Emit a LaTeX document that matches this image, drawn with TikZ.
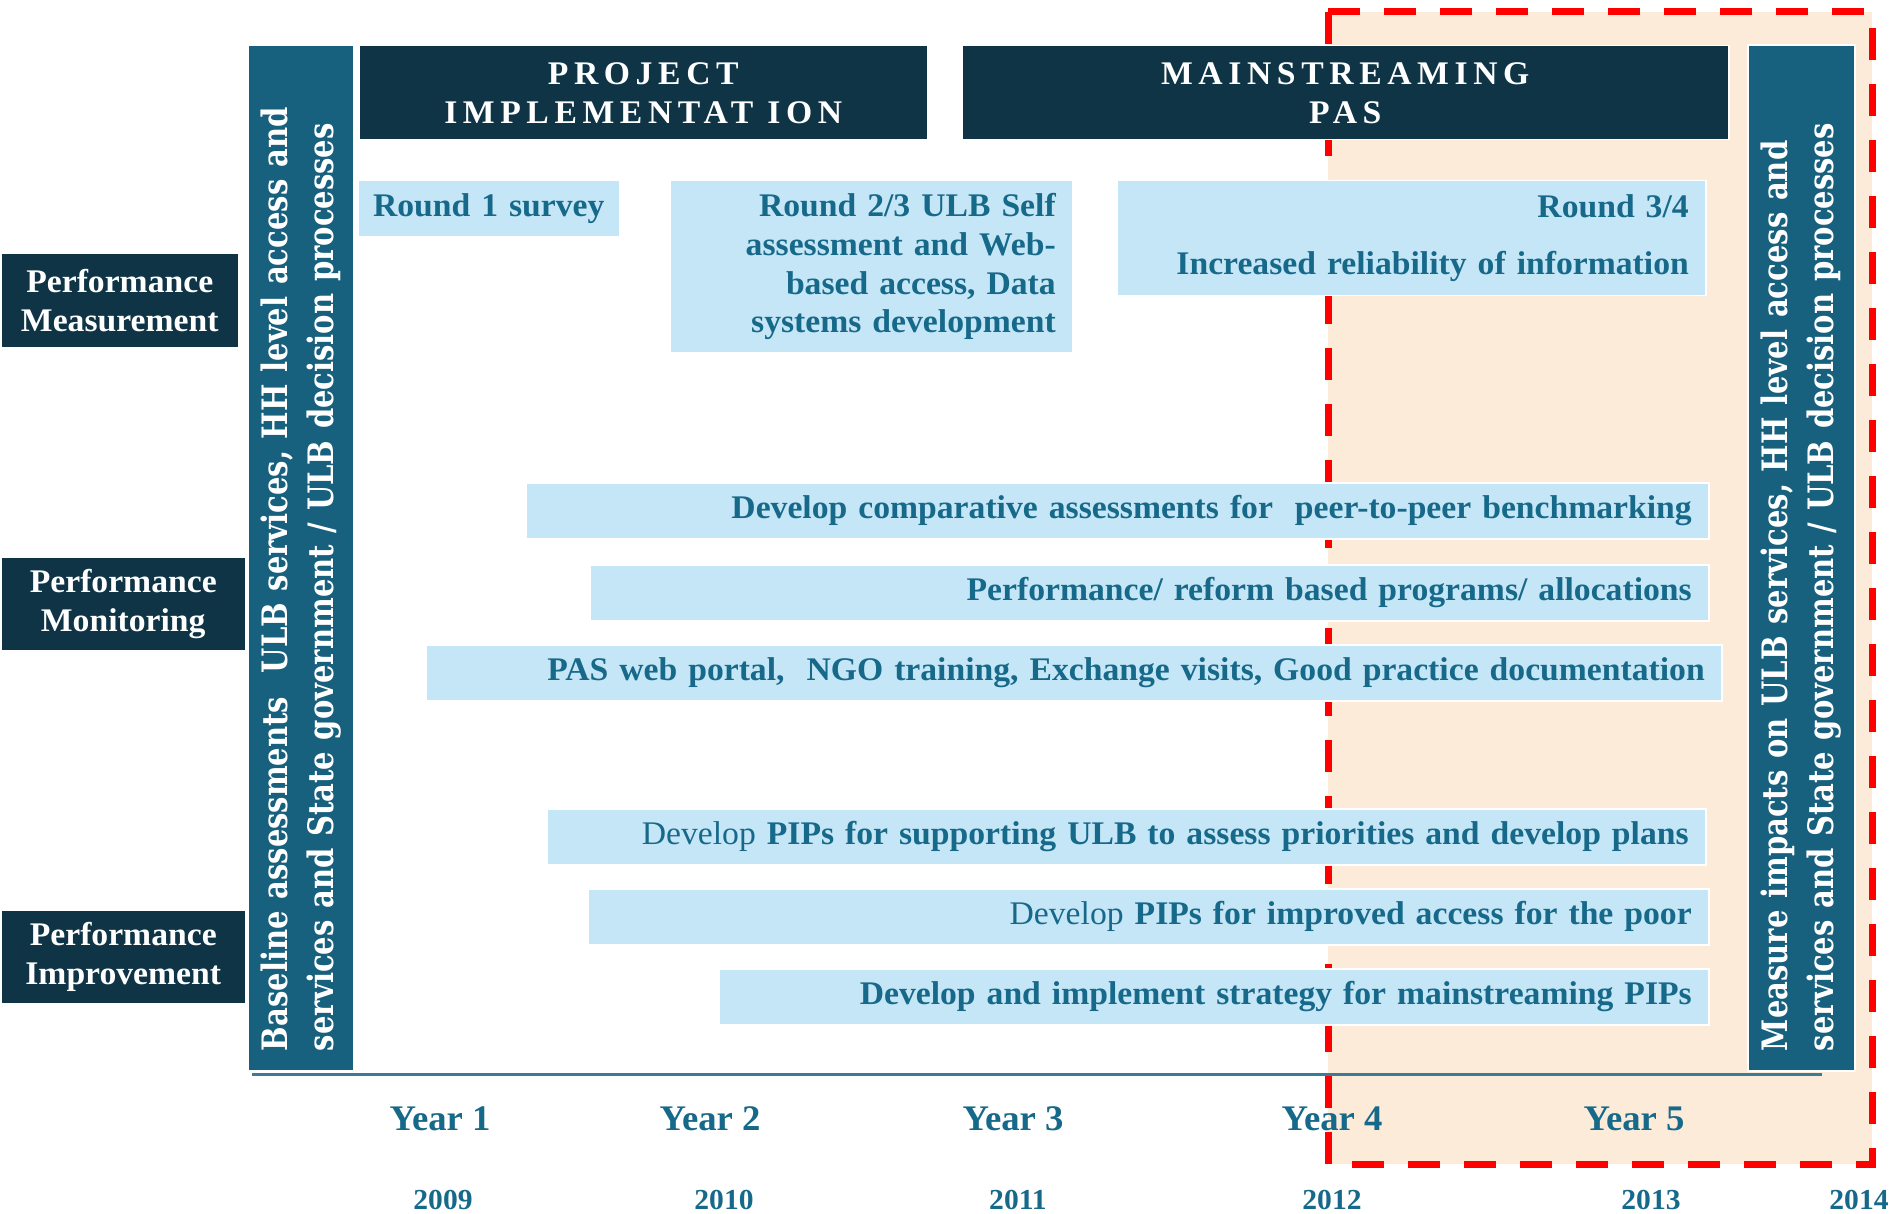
\documentclass[tikz,border=0pt]{standalone}
\usepackage{fontspec}
\setmainfont{Liberation Serif}[FakeStretch=1.02]
\newfontfamily\barfont{DejaVu Serif}[FakeStretch=0.83]
\definecolor{navy}{HTML}{0E3446}
\definecolor{barblue}{HTML}{17607E}
\definecolor{lightbox}{HTML}{C4E6F6}
\definecolor{textblue}{HTML}{17698A}
\definecolor{peach}{HTML}{FDEBDA}
\definecolor{axisblue}{HTML}{3A7C98}
\begin{document}
\begin{tikzpicture}[x=1pt,y=-1pt,
  bluebox/.style={fill=lightbox, draw=white, line width=1.5pt, text=textblue,
    font=\fontsize{33}{38.7}\selectfont\bfseries, inner xsep=17pt, inner ysep=0pt,
    align=right, anchor=north west},
  darkbox/.style={fill=navy, draw=white, line width=1.5pt, text=white,
    font=\fontsize{33}{39}\selectfont\bfseries, inner sep=0pt, align=center,
    anchor=north west},
  headbox/.style={darkbox, font=\fontsize{33}{39}\selectfont\bfseries\addfontfeatures{LetterSpace=17}},
  vbar/.style={fill=barblue, draw=white, line width=1.5pt, text=white, rotate=90,
    font=\barfont\fontsize{35}{46}\selectfont\bfseries, align=left,
    inner xsep=20pt, inner ysep=0pt, minimum width=1026pt, text width=986pt},
  yearlabel/.style={text=textblue, font=\fontsize{36}{40}\selectfont\bfseries, inner sep=0pt},
  datelabel/.style={text=textblue, font=\fontsize{29}{32}\selectfont\bfseries, inner sep=0pt}
]
\useasboundingbox (0,0) rectangle (1895,1214);
\fill[white] (0,0) rectangle (1895,1214);

% mainstreaming phase highlight
\fill[peach] (1328,12) rectangle (1872,1164);
\draw[red, line width=7pt, dash pattern=on 32pt off 24pt] (1328,12) rectangle (1872,1164);

% time axis
\draw[axisblue, line width=3pt] (252,1074) -- (1822,1074);

% side bars
\node[vbar, minimum height=106pt] (baseline) at (301,558)
  {Baseline assessments~ ULB services, HH level access and\\services and State government / ULB decision processes};
\node[vbar, minimum height=107pt] (impacts) at (1801.5,558)
  {Measure impacts on ULB services, HH level access and\\services and State government / ULB decision processes};

% phase headers
\node[headbox, minimum width=569pt, minimum height=94pt] (projimpl) at (358,45)
  {PROJECT\\IMPLEMENTAT ION};
\node[headbox, minimum width=767pt, minimum height=94pt] (mainpas) at (961,45)
  {MAINSTREAMING\\PAS};

% row labels
\node[darkbox, minimum width=238pt, minimum height=94pt] (measure) at (0,253)
  {Performance\\Measurement};
\node[darkbox, minimum width=245pt, minimum height=94pt] (monitor) at (0,556)
  {Performance\\Monitoring};
\node[darkbox, minimum width=245pt, minimum height=94pt] (improve) at (0,909)
  {Performance\\Improvement};

% activities
\node[bluebox, inner xsep=8pt, minimum width=262pt, minimum height=56pt, text width=246pt, align=center] (round1) at (357,180)
  {Round 1 survey};
\node[bluebox, minimum width=403pt, minimum height=172pt, text width=369pt] (round23) at (669,180)
  {Round 2/3 ULB Self\\assessment and Web-\\based access, Data\\systems development};
\node[bluebox, minimum width=589pt, minimum height=115pt, text width=555pt] (round34) at (1116,180)
  {Round 3/4\\[18pt]Increased reliability of information};
\node[bluebox, minimum width=1183pt, minimum height=56pt, text width=1149pt] (compare) at (525,482)
  {Develop comparative assessments for~ peer-to-peer benchmarking};
\node[bluebox, minimum width=1119pt, minimum height=56pt, text width=1085pt] (reform) at (589,564)
  {Performance/ reform based programs/ allocations};
\node[bluebox, minimum width=1296pt, minimum height=56pt, text width=1262pt] (portal) at (425,644)
  {PAS web portal,~ NGO training, Exchange visits, Good practice documentation};
\node[bluebox, minimum width=1159pt, minimum height=56pt, text width=1125pt] (pipplans) at (546,808)
  {{\mdseries Develop} PIPs for supporting ULB to assess priorities and develop plans};
\node[bluebox, minimum width=1121pt, minimum height=56pt, text width=1087pt] (pippoor) at (587,888)
  {{\mdseries Develop} PIPs for improved access for the poor};
\node[bluebox, minimum width=990pt, minimum height=56pt, text width=956pt] (strategy) at (718,968)
  {Develop and implement strategy for mainstreaming PIPs};

% axis labels
\node[yearlabel] (y1) at (440,1119) {Year 1};
\node[yearlabel] (y2) at (710,1119) {Year 2};
\node[yearlabel] (y3) at (1013,1119) {Year 3};
\node[yearlabel] (y4) at (1332,1119) {Year 4};
\node[yearlabel] (y5) at (1634,1119) {Year 5};
\node[datelabel] (d09) at (443,1200) {2009};
\node[datelabel] (d10) at (724,1200) {2010};
\node[datelabel] (d11) at (1018,1200) {2011};
\node[datelabel] (d12) at (1332,1200) {2012};
\node[datelabel] (d13) at (1651,1200) {2013};
\node[datelabel] (d14) at (1859,1200) {2014};
\end{tikzpicture}
\end{document}
